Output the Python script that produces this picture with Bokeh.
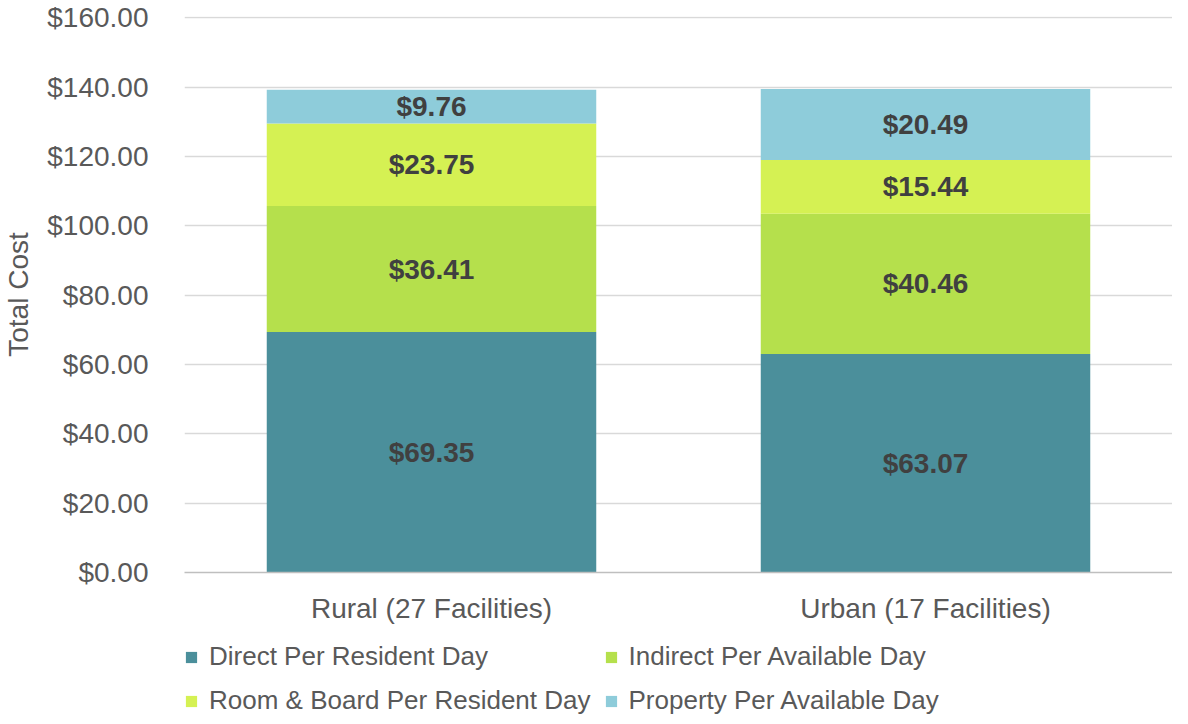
from bokeh.plotting import figure
from bokeh.layouts import column
from bokeh.models import (FactorRange, Range1d, FixedTicker, NumeralTickFormatter,
                          Legend, LegendItem, ColumnDataSource)
from bokeh.core.properties import value
from bokeh.embed import file_html
from bokeh.resources import INLINE

# ---- data ----
categories = ["Rural (27 Facilities)", "Urban (17 Facilities)"]
series_names = ["Direct Per Resident Day", "Indirect Per Available Day",
                "Room & Board Per Resident Day", "Property Per Available Day"]
direct = [69.35, 63.07]
indirect = [36.41, 40.46]
room_board = [23.75, 15.44]
property_day = [9.76, 20.49]
y_ticks = [0, 20, 40, 60, 80, 100, 120, 140, 160]

colors = ["#4B8F9B", "#B5E04C", "#D5F153", "#8ECCDA"]
FONT = "Liberation Sans"

keys = ["direct", "indirect", "room_board", "property_day"]
src = ColumnDataSource(dict(cat=categories, direct=direct, indirect=indirect,
                            room_board=room_board, property_day=property_day))

p = figure(x_range=FactorRange(factors=categories), y_range=Range1d(0, 160.4),
           width=1172, height=634, output_backend="svg", toolbar_location=None,
           min_border_left=175, min_border_right=0, min_border_top=16,
           min_border_bottom=62)
p.outline_line_color = None

p.vbar_stack(keys, x="cat", width=0.667, source=src,
             fill_color=colors, line_color=None)

# data labels
lx, ly, lt = [], [], []
series = [direct, indirect, room_board, property_day]
for i, c in enumerate(categories):
    bottom = 0.0
    for s in series:
        v = s[i]
        lx.append(c)
        ly.append(bottom + v / 2)
        lt.append(f"${v:.2f}")
        bottom += v
p.text(x="x", y="y", text="t", source=ColumnDataSource(dict(x=lx, y=ly, t=lt)),
       text_align="center", text_baseline="middle",
       text_font=value(FONT), text_font_style="bold", text_font_size="28px",
       text_color="#404040")

# axes
p.yaxis.ticker = FixedTicker(ticks=y_ticks)
p.yaxis.formatter = NumeralTickFormatter(format="$0.00")
p.yaxis.axis_line_color = None
p.yaxis.major_tick_line_color = None
p.yaxis.minor_tick_line_color = None
p.yaxis.major_label_text_font = FONT
p.yaxis.major_label_text_font_size = "28px"
p.yaxis.major_label_text_color = "#595959"
p.yaxis.major_label_standoff = 30
p.yaxis.axis_label = "Total Cost"
p.yaxis.axis_label_text_font = FONT
p.yaxis.axis_label_text_font_size = "28px"
p.yaxis.axis_label_text_font_style = "normal"
p.yaxis.axis_label_text_color = "#595959"
p.yaxis.axis_label_standoff = 10

p.xaxis.axis_line_color = "#BFBFBF"
p.xaxis.axis_line_width = 1.5
p.xaxis.major_tick_line_color = None
p.xaxis.minor_tick_line_color = None
p.xaxis.major_label_text_font = FONT
p.xaxis.major_label_text_font_size = "28px"
p.xaxis.major_label_text_color = "#595959"
p.xaxis.major_label_standoff = 14

p.xgrid.grid_line_color = None
p.ygrid.grid_line_color = "#D9D9D9"
p.ygrid.grid_line_width = 1.5

# ---- legend in its own strip below ----
lg = figure(width=1172, height=80, output_backend="svg", toolbar_location=None,
            x_range=Range1d(0, 1), y_range=Range1d(0, 1),
            x_axis_location=None, y_axis_location=None,
            min_border_left=0, min_border_right=0, min_border_top=7, min_border_bottom=0)
lg.outline_line_color = None
lg.grid.visible = False
items = []
for name, col in zip(series_names, colors):
    r = lg.vbar(x=[0.5], top=[0], bottom=[0], width=0.1, fill_color=col, line_color=None)
    items.append(LegendItem(label=name, renderers=[r]))

legend = Legend(items=items, location="top_left", orientation="horizontal", nrows=2,
                border_line_color=None, background_fill_alpha=0, padding=0, margin=0,
                label_text_font=FONT, label_text_font_size="26px", label_text_color="#595959",
                glyph_width=14, glyph_height=14, label_standoff=11, spacing=13)
lg.add_layout(legend, "center")

layout = column(p, lg, spacing=0)
open("out.html", "w").write(file_html(layout, INLINE))
